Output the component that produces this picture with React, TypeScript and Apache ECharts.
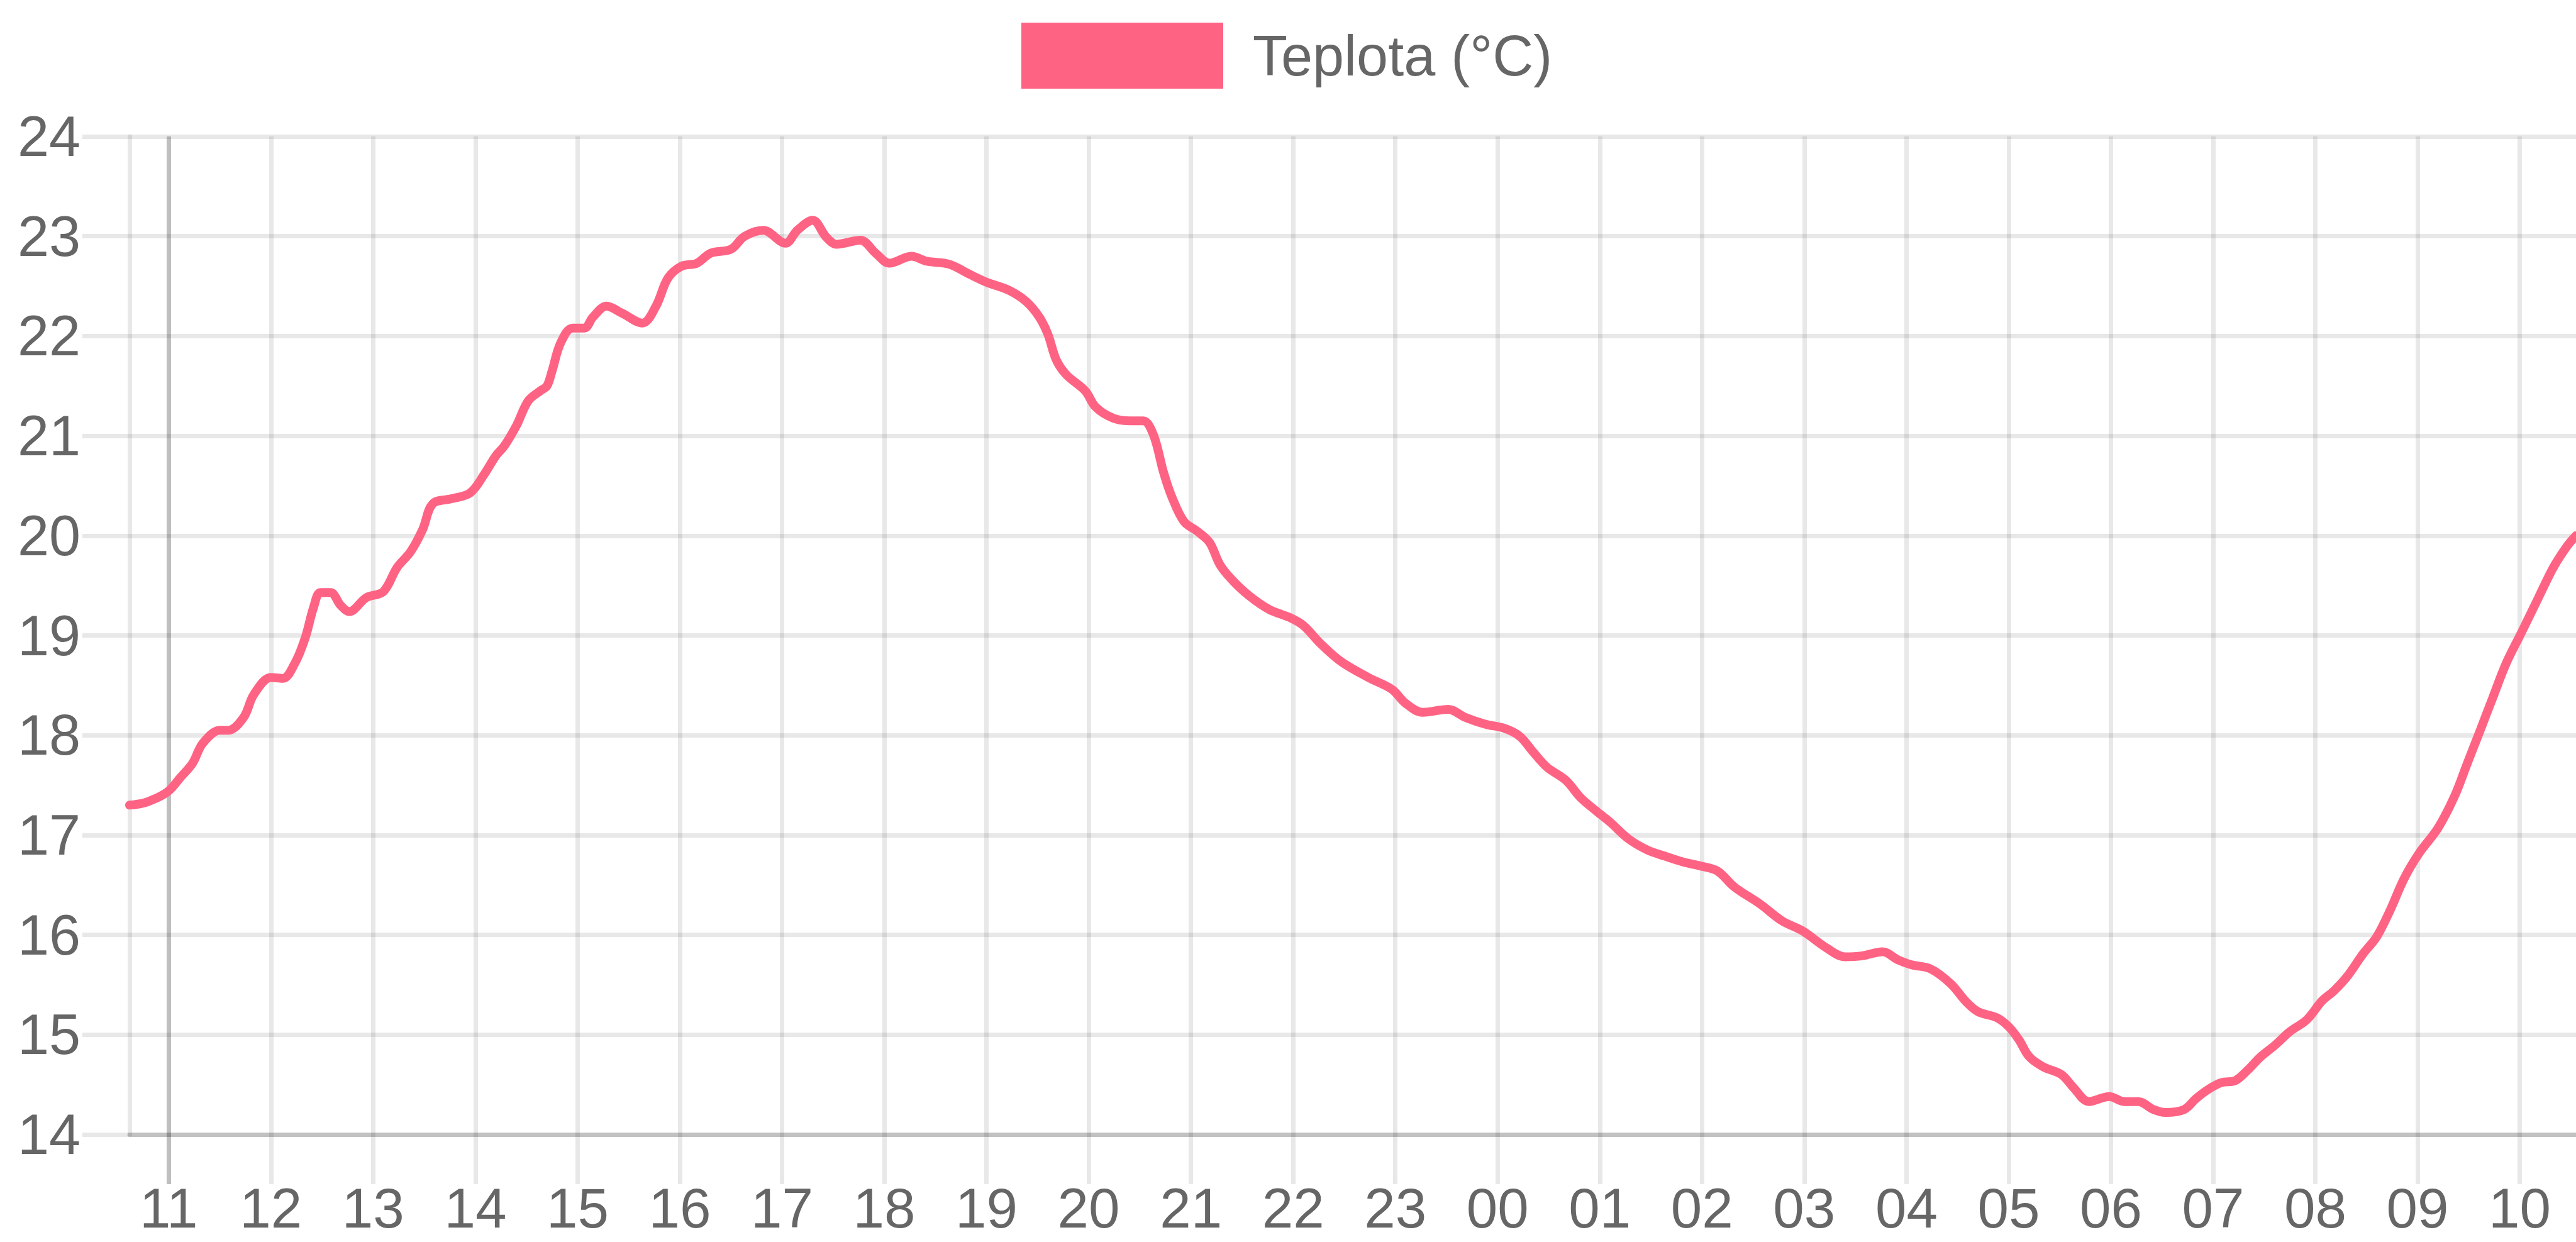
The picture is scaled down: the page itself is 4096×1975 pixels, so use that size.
import React, { useEffect, useRef } from "react";
import * as echarts from "echarts";

const seriesName = "Teplota (°C)";

const times = [
  "10:37", "10:47", "10:59", "11:07", "11:14", "11:20", "11:30", "11:35", "11:44", "11:50",
  "12:00", "12:07", "12:14", "12:20", "12:25", "12:29", "12:35", "12:41", "12:46", "12:56",
  "13:06", "13:14", "13:22", "13:29", "13:35", "13:46", "13:57", "14:05", "14:12", "14:17",
  "14:24", "14:31", "14:38", "14:42", "14:45", "14:50", "14:57", "15:04", "15:09", "15:17",
  "15:26", "15:38", "15:46", "15:53", "16:01", "16:10", "16:18", "16:30", "16:38", "16:49",
  "17:02", "17:09", "17:18", "17:26", "17:32", "17:46", "17:55", "18:03", "18:16", "18:25",
  "18:38", "18:50", "19:00", "19:13", "19:23", "19:31", "19:36", "19:41", "19:47", "19:58",
  "20:04", "20:14", "20:24", "20:32", "20:38", "20:44", "20:49", "20:56", "21:04", "21:11",
  "21:17", "21:24", "21:34", "21:46", "21:58", "22:06", "22:16", "22:28", "22:44", "22:58",
  "23:06", "23:16", "23:31", "23:41", "23:53", "00:04", "00:13", "00:21", "00:29", "00:40",
  "00:49", "00:58", "01:06", "01:17", "01:28", "01:38", "01:49", "01:59", "02:09", "02:19",
  "02:34", "02:47", "02:59", "03:13", "03:24", "03:34", "03:46", "03:55", "04:03", "04:14",
  "04:26", "04:35", "04:42", "04:53", "05:00", "05:06", "05:12", "05:20", "05:31", "05:38",
  "05:47", "05:59", "06:08", "06:16", "06:25", "06:32", "06:43", "06:50", "06:57", "07:05",
  "07:13", "07:20", "07:28", "07:36", "07:45", "07:55", "08:04", "08:11", "08:19", "08:28",
  "08:36", "08:44", "08:52", "09:01", "09:12", "09:22", "09:29", "09:37", "09:44", "09:52",
  "10:01", "10:11", "10:20", "10:28", "10:33",
];

const temps = [
  17.3, 17.33, 17.43, 17.58, 17.72, 17.92, 18.05, 18.05, 18.18, 18.41,
  18.58, 18.57, 18.72, 18.97, 19.28, 19.43, 19.43, 19.3, 19.24, 19.38,
  19.44, 19.68, 19.84, 20.06, 20.32, 20.37, 20.43, 20.61, 20.8, 20.9,
  21.1, 21.35, 21.45, 21.5, 21.65, 21.93, 22.08, 22.08, 22.19, 22.3,
  22.23, 22.13, 22.3, 22.58, 22.7, 22.73, 22.83, 22.87, 23.0, 23.06,
  22.93, 23.06, 23.16, 22.99, 22.92, 22.96, 22.83, 22.73, 22.8, 22.75,
  22.72, 22.62, 22.54, 22.46, 22.35, 22.19, 22.02, 21.76, 21.61, 21.45,
  21.29, 21.18, 21.15, 21.15, 21.01, 20.63, 20.38, 20.14, 20.04, 19.93,
  19.71, 19.56, 19.4, 19.26, 19.18, 19.1, 18.92, 18.74, 18.58, 18.46,
  18.32, 18.23, 18.26, 18.18, 18.11, 18.07, 17.99, 17.83, 17.68, 17.55,
  17.37, 17.24, 17.13, 16.96, 16.85, 16.79, 16.73, 16.69, 16.64, 16.48,
  16.31, 16.14, 16.04, 15.87, 15.78, 15.79, 15.83, 15.75, 15.7, 15.66,
  15.51, 15.33, 15.23, 15.17, 15.08, 14.95, 14.78, 14.68, 14.6, 14.47,
  14.33, 14.38, 14.33, 14.33, 14.25, 14.22, 14.25, 14.36, 14.45, 14.52,
  14.54, 14.64, 14.78, 14.89, 15.03, 15.15, 15.34, 15.44, 15.59, 15.81,
  15.98, 16.25, 16.56, 16.82, 17.07, 17.4, 17.71, 18.06, 18.37, 18.72,
  19.03, 19.38, 19.69, 19.9, 20.0,
];

const hourLabels = [
  "11", "12", "13", "14", "15", "16", "17", "18", "19", "20", "21", "22", "23",
  "00", "01", "02", "03", "04", "05", "06", "07", "08", "09", "10",
];

const yMin = 14;
const yMax = 24;
const yStep = 1;

const FONT = "'Liberation Sans', Arial, Helvetica, sans-serif";
const LINE_COLOR = "rgb(255, 99, 132)";
const GRID_COLOR = "rgba(0, 0, 0, 0.09)";
const ZERO_COLOR = "rgba(0, 0, 0, 0.25)";
const GRID_W = 7;

// "HH:MM" strings (chronological, crossing midnight) -> continuous hours
function toHours(list: string[]): number[] {
  let day = 0;
  let prev = -1;
  return list.map((s) => {
    const [h, m] = s.split(":").map(Number);
    const mins = h * 60 + m;
    if (prev >= 0 && mins < prev) day += 1;
    prev = mins;
    return day * 24 + h + m / 60;
  });
}

const pad2 = (n: number) => (n < 10 ? "0" + n : String(n));

export default function App() {
  const ref = useRef<HTMLDivElement | null>(null);

  useEffect(() => {
    if (!ref.current) return;
    const chart = echarts.init(ref.current, undefined, { renderer: "svg" });

    const hours = toHours(times);
    const tickHours = toHours(hourLabels.map((h) => h + ":00"));
    const data = hours.map((t, i) => [t, temps[i]]);
    const xMin = hours[0];
    const xMax = hours[hours.length - 1];
    const firstTick = tickHours[0];

    chart.setOption({
      animation: false,
      backgroundColor: "#ffffff",
      legend: {
        show: true,
        left: 1624,
        top: 36,
        padding: 0,
        itemWidth: 321,
        itemHeight: 105,
        icon: "rect",
        selectedMode: false,
        data: [seriesName],
        itemStyle: { color: LINE_COLOR, borderWidth: 0 },
        textStyle: {
          color: "#666666",
          fontSize: 90,
          fontFamily: FONT,
          padding: [0, 0, 0, 42],
        },
      },
      grid: {
        left: 206,
        right: 0,
        top: 217,
        bottom: 171,
        containLabel: false,
        outerBoundsMode: "none",
      },
      xAxis: [
        {
          type: "value",
          min: xMin,
          max: xMax,
          position: "bottom",
          minInterval: 1,
          maxInterval: 1,
          axisLine: { show: true, lineStyle: { color: "rgba(0,0,0,0.17)", width: GRID_W } },
          axisTick: {
            show: true,
            length: 79,
            lineStyle: { color: GRID_COLOR, width: GRID_W },
            customValues: tickHours.slice(1),
          },
          axisLabel: {
            show: true,
            customValues: tickHours,
            formatter: (v: number) => pad2(Math.round(v) % 24),
            color: "#666666",
            fontSize: 89,
            lineHeight: 89,
            fontFamily: FONT,
            margin: 72,
            hideOverlap: false,
          },
          splitLine: { show: true, lineStyle: { color: GRID_COLOR, width: GRID_W } },
        },
        {
          type: "value",
          min: xMin,
          max: xMax,
          position: "bottom",
          axisLine: { show: false },
          axisLabel: { show: false },
          splitLine: { show: false },
          axisTick: {
            show: true,
            length: 79,
            lineStyle: { color: ZERO_COLOR, width: GRID_W },
            customValues: [firstTick],
          },
        },
      ],
      yAxis: {
        type: "value",
        min: yMin,
        max: yMax,
        interval: yStep,
        axisLine: { show: true, lineStyle: { color: GRID_COLOR, width: GRID_W } },
        axisTick: { show: true, length: 75, lineStyle: { color: GRID_COLOR, width: GRID_W } },
        splitLine: { show: true, lineStyle: { color: GRID_COLOR, width: GRID_W } },
        axisLabel: {
          color: "#666666",
          fontSize: 90,
          fontFamily: FONT,
          margin: 78,
        },
      },
      series: [
        {
          name: seriesName,
          type: "line",
          xAxisIndex: 0,
          data,
          smooth: 0.35,
          symbol: "none",
          showSymbol: false,
          lineStyle: { color: LINE_COLOR, width: 14, join: "round", cap: "round" },
          itemStyle: { color: LINE_COLOR },
          z: 3,
          markLine: {
            silent: true,
            z: 1,
            symbol: ["none", "none"],
            label: { show: false },
            emphasis: { disabled: true },
            lineStyle: { color: ZERO_COLOR, width: GRID_W, type: "solid" },
            data: [{ xAxis: firstTick }],
          },
        },
      ],
    });

    return () => {
      chart.dispose();
    };
  }, []);

  return (
    <div
      ref={ref}
      style={{ position: "fixed", left: 0, top: 0, width: 4096, height: 1975 }}
    />
  );
}
